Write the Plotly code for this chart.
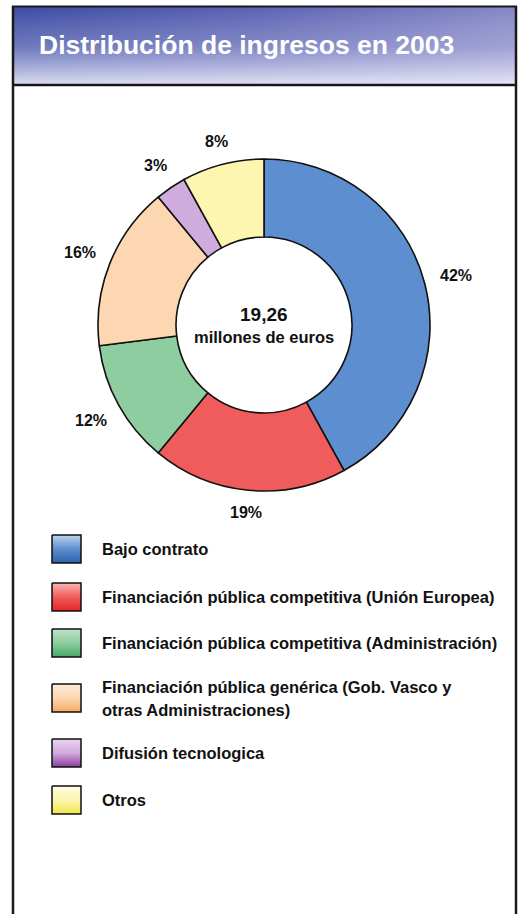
import math
import plotly.graph_objects as go

W, H = 519, 914

title_text = "Distribución de ingresos en 2003"
categories = [
    "Bajo contrato",
    "Financiación pública competitiva (Unión Europea)",
    "Financiación pública competitiva (Administración)",
    "Financiación pública genérica (Gob. Vasco y|otras Administraciones)",
    "Difusión tecnologica",
    "Otros",
]
shares = [42, 19, 12, 16, 3, 8]
total_value = "19,26"
total_unit = "millones de euros"

colors = ["#5d8ecf", "#f05c5c", "#8ecd9f", "#fdd7b2", "#d0abdd", "#fcf6b0"]
light = ["#bcd3ee", "#fbb4b4", "#bfe3c8", "#fdebd8", "#ead3f0", "#fefde0"]
dark = ["#2a62ad", "#e2252b", "#47a866", "#f4a862", "#8e3d9e", "#f2e54a"]

FONT = "Liberation Sans, Arial, Helvetica"


def Y(py):
    return H - py


fig = go.Figure()

# header band: horizontal gradient + whitening towards bottom
hx = [14, 515, 515, 14, 14]
hy = [Y(7), Y(7), Y(84), Y(84), Y(7)]
fig.add_trace(go.Scatter(
    x=hx, y=hy, fill="toself", mode="none", hoverinfo="skip", showlegend=False,
    fillgradient=dict(type="horizontal",
                      colorscale=[[0, "#3b4ba3"], [0.5, "#5c63b3"], [1, "#8587c6"]]),
))
fig.add_trace(go.Scatter(
    x=hx, y=hy, fill="toself", mode="none", hoverinfo="skip", showlegend=False,
    fillgradient=dict(type="vertical",
                      colorscale=[[0, "rgba(245,245,252,0.85)"], [0.5, "rgba(220,220,245,0.3)"],
                                  [1, "rgba(255,255,255,0)"]]),
))

# legend swatches (gradient squares)
row_y = [549, 597, 643, 698, 753, 800]
sw_x0, sw_x1 = 52, 81
for i, yc in enumerate(row_y):
    y0, y1 = yc - 14, yc + 14
    fig.add_trace(go.Scatter(
        x=[sw_x0, sw_x1, sw_x1, sw_x0, sw_x0], y=[Y(y0), Y(y0), Y(y1), Y(y1), Y(y0)],
        fill="toself", mode="lines", line=dict(color="#111111", width=1.5),
        hoverinfo="skip", showlegend=False,
        fillgradient=dict(type="vertical",
                          colorscale=[[0, dark[i]], [0.5, colors[i]], [1, light[i]]]),
    ))

# donut
cx, cy, r = 264, 325, 166
fig.add_trace(go.Pie(
    values=shares, labels=[c.replace("|", " ") for c in categories],
    sort=False, direction="clockwise", rotation=0, hole=0.53,
    marker=dict(colors=colors, line=dict(color="#111111", width=1.6)),
    textinfo="none",
    domain=dict(x=[(cx - r) / W, (cx + r) / W], y=[1 - (cy + r) / H, 1 - (cy - r) / H]),
    showlegend=False, hoverinfo="label+percent",
))

annotations = [
    dict(x=37, y=Y(45), xref="x", yref="y", text="<b>" + title_text + "</b>", showarrow=False,
         xanchor="left", yanchor="middle",
         font=dict(family=FONT, size=26.5, color="white")),
    dict(x=cx, y=Y(314), xref="x", yref="y", text="<b>" + total_value + "</b>", showarrow=False,
         xanchor="center", yanchor="middle",
         font=dict(family=FONT, size=19, color="#111111")),
    dict(x=cx, y=Y(337), xref="x", yref="y", text="<b>" + total_unit + "</b>", showarrow=False,
         xanchor="center", yanchor="middle",
         font=dict(family=FONT, size=16.5, color="#111111")),
]

# percentage labels outside the ring, positioned from the slice angles
pct_size = 16
gap = 15
total = sum(shares)
cum = 0
for s in shares:
    theta = (cum + s / 2) / total * 2 * math.pi
    cum += s
    txt = f"{s}%"
    w = (0.556 * len(str(s)) + 0.889) * pct_size
    h = 12
    d = r + gap + abs(math.sin(theta)) * w / 2 + abs(math.cos(theta)) * h / 2
    px = cx + d * math.sin(theta)
    py = cy - d * math.cos(theta)
    annotations.append(dict(
        x=px, y=Y(py), xref="x", yref="y", text="<b>" + txt + "</b>", showarrow=False,
        xanchor="center", yanchor="middle",
        font=dict(family=FONT, size=pct_size, color="#111111")))

for i, yc in enumerate(row_y):
    lines = categories[i].split("|")
    n = len(lines)
    for j, ln in enumerate(lines):
        ly = yc + (j - (n - 1) / 2) * 23
        annotations.append(dict(
            x=100, y=Y(ly), xref="x", yref="y", text="<b>" + ln + "</b>", showarrow=False,
            xanchor="left", yanchor="middle",
            font=dict(family=FONT, size=16.5, color="#111111")))

shapes = [
    dict(type="line", xref="x", yref="y", x0=13, x1=13, y0=Y(6), y1=Y(920),
         line=dict(color="#1a1a1a", width=2.5), layer="above"),
    dict(type="line", xref="x", yref="y", x0=516, x1=516, y0=Y(6), y1=Y(920),
         line=dict(color="#1a1a1a", width=2.5), layer="above"),
    dict(type="line", xref="x", yref="y", x0=12, x1=517, y0=Y(6.5), y1=Y(6.5),
         line=dict(color="#1a1a1a", width=2), layer="above"),
    dict(type="line", xref="x", yref="y", x0=13, x1=516, y0=Y(85), y1=Y(85),
         line=dict(color="#151525", width=2.5), layer="above"),
]

fig.update_layout(
    width=W, height=H, margin=dict(l=0, r=0, t=0, b=0),
    paper_bgcolor="white", plot_bgcolor="rgba(0,0,0,0)",
    xaxis=dict(range=[0, W], visible=False, fixedrange=True, domain=[0, 1]),
    yaxis=dict(range=[0, H], visible=False, fixedrange=True, domain=[0, 1]),
    annotations=annotations, shapes=shapes,
)

fig.write_html("out.html")
